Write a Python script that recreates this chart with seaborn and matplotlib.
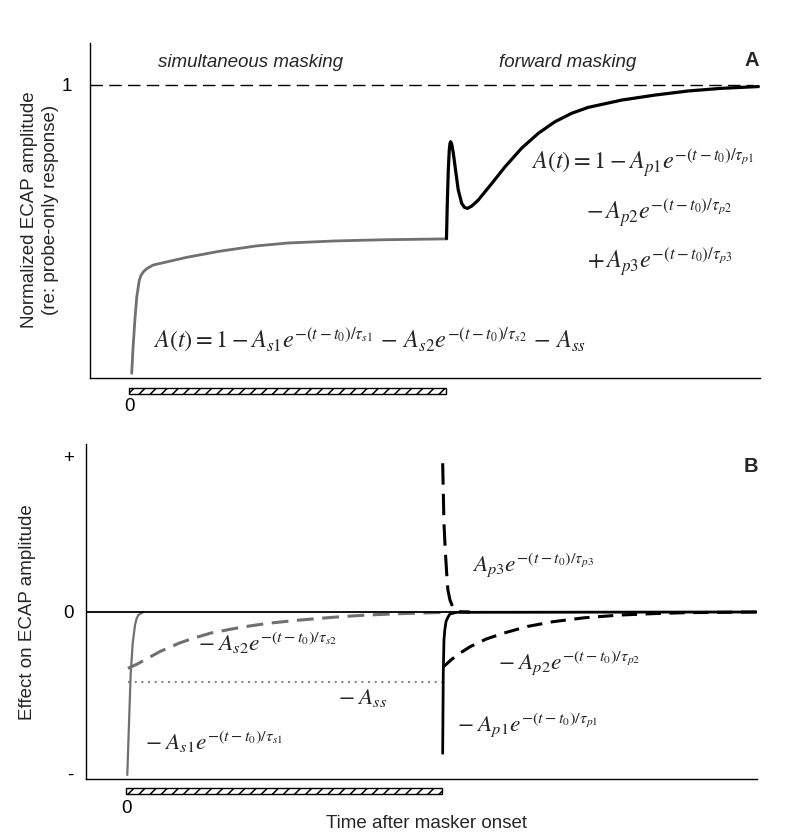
import numpy as np
import pandas as pd
import matplotlib
matplotlib.use("Agg")
import matplotlib.pyplot as plt
import matplotlib.transforms as mtransforms
from matplotlib.patches import Rectangle
import seaborn as sns

# ---------------- data ----------------
masker_on = 0.0
masker_off = 1.0
probe_only_level = 1.0

# Panel A: normalized ECAP amplitude
simul_t = [0.007, 0.011, 0.017, 0.023, 0.031, 0.037, 0.044, 0.055, 0.075, 0.18,
           0.285, 0.40, 0.50, 0.65, 0.80, 1.0]
simul_amp = [0.016, 0.100, 0.198, 0.277, 0.334, 0.351, 0.362, 0.373, 0.385, 0.411,
             0.432, 0.450, 0.460, 0.467, 0.471, 0.474]

fwd_t = [1.0, 1.0025, 1.0057, 1.0088, 1.011, 1.0132, 1.0165, 1.0215, 1.030, 1.037,
         1.048, 1.057, 1.066, 1.080, 1.100, 1.143, 1.185, 1.237, 1.290, 1.342,
         1.395, 1.447, 1.553, 1.658, 1.763, 1.868, 1.984]
fwd_amp = [0.475, 0.595, 0.709, 0.777, 0.799, 0.805, 0.797, 0.766, 0.697, 0.641,
           0.595, 0.581, 0.578, 0.586, 0.606, 0.663, 0.720, 0.783, 0.834, 0.873,
           0.902, 0.922, 0.947, 0.964, 0.978, 0.987, 0.993]

# Panel B: effect of each component on ECAP amplitude
s1_t = [0.0041, 0.0095, 0.0149, 0.0212, 0.0285, 0.0332, 0.0389, 0.0547]
s1_eff = [-1.012, -0.691, -0.381, -0.194, -0.081, -0.043, -0.019, 0.0]

s2_t = [0.006, 0.034, 0.108, 0.17, 0.213, 0.27, 0.339, 0.37, 0.45, 0.55, 0.66,
        0.76, 0.87, 1.0]
s2_eff = [-0.350, -0.325, -0.245, -0.192, -0.163, -0.130, -0.104, -0.093, -0.070,
          -0.050, -0.032, -0.019, -0.010, -0.003]

ss_t = [0.006, 1.0]
ss_level = -0.433

p1_t = [1.0022, 1.0041, 1.0063, 1.0089, 1.0127, 1.0184, 1.0253, 1.0465, 1.997]
p1_eff = [-0.878, -0.381, -0.174, -0.112, -0.060, -0.034, -0.012, -0.002, 0.0]

p2_t = [1.0022, 1.03, 1.06, 1.0886, 1.14, 1.194, 1.27, 1.352, 1.45, 1.563, 1.67,
        1.774, 1.996]
p2_eff = [-0.345, -0.295, -0.252, -0.216, -0.168, -0.132, -0.090, -0.060, -0.036,
          -0.019, -0.010, -0.004, 0.0]

p3_t = [1.0022, 1.0063, 1.0104, 1.0149, 1.0187, 1.0253, 1.0301, 1.0358, 1.044,
        1.057, 1.0886]
p3_eff = [0.924, 0.551, 0.385, 0.240, 0.137, 0.075, 0.050, 0.023, 0.009, 0.002, 0.0]

b_ticks = [-1, 0, 0.963]
b_ticklabels = ['-', '0', '+']

# ---------------- style ----------------
sns.set_style("white")
plt.rcParams['font.family'] = ['Liberation Sans', 'DejaVu Sans']
plt.rcParams['mathtext.fontset'] = 'stix'
plt.rcParams['hatch.linewidth'] = 1.1

W, H = 800, 838
fig = plt.figure(figsize=(W / 100, H / 100), dpi=100)
axA = fig.add_axes([90 / W, 1 - 378 / H, 670 / W, 335 / H])
axB = fig.add_axes([86 / W, 1 - 779 / H, 671 / W, 335 / H])

GRAY = "#707070"
TXT = 13.5

def px(x, y):
    return x / W, 1 - y / H

for ax in (axA, axB):
    for s in ("top", "right"):
        ax.spines[s].set_visible(False)
    for s in ("left", "bottom"):
        ax.spines[s].set_color("black")
        ax.spines[s].set_linewidth(1.0)

# ---------------- panel A ----------------
axA.set_xlim(-0.1246, 1.989)
axA.set_ylim(0, 1.1414)
axA.axhline(probe_only_level, xmax=0.99, color="black", lw=1.0, ls=(0, (9, 4.5)), zorder=1)
sns.lineplot(x=simul_t, y=simul_amp, ax=axA, color=GRAY, lw=2.0, sort=False,
             estimator=None, zorder=3)
sns.lineplot(x=fwd_t, y=fwd_amp, ax=axA, color="black", lw=2.3, sort=False,
             estimator=None, zorder=4)
axA.set_xticks([masker_on])
axA.set_xticklabels(['0'])
axA.set_yticks([probe_only_level])
axA.set_yticklabels(['1'])
axA.tick_params(axis='x', length=4.3, width=1, pad=10, labelsize=TXT, colors='black')
axA.tick_params(axis='y', length=5, width=1, pad=8, labelsize=TXT, colors='black')
axA.set_ylabel("Normalized ECAP amplitude\n(re: probe-only response)", fontsize=TXT,
               linespacing=1.3)
axA.yaxis.set_label_coords(-0.0463, 0.5015)

# ---------------- panel B ----------------
axB.set_xlim(-0.1266, 1.997)
axB.set_ylim(-1.0373, 1.0435)
axB.axhline(0, color="black", lw=1.3, zorder=5)
sns.lineplot(x=s1_t, y=s1_eff, ax=axB, color=GRAY, lw=1.6, sort=False,
             estimator=None, zorder=3)
sns.lineplot(x=s2_t, y=s2_eff, ax=axB, color=GRAY, lw=2.2, sort=False,
             estimator=None, linestyle=(0, (5.5, 2.8)), zorder=3)
sns.lineplot(x=ss_t, y=[ss_level, ss_level], ax=axB, color="#8a8a8a", lw=1.5,
             sort=False, estimator=None, linestyle=(0, (1, 2.2)), zorder=2)
sns.lineplot(x=p1_t, y=p1_eff, ax=axB, color="black", lw=2.0, sort=False,
             estimator=None, zorder=6)
sns.lineplot(x=p2_t, y=p2_eff, ax=axB, color="black", lw=2.2, sort=False,
             estimator=None, linestyle=(0, (5, 2.8)), zorder=6)
sns.lineplot(x=p3_t, y=p3_eff, ax=axB, color="black", lw=2.2, sort=False,
             estimator=None, linestyle=(0, (7, 3)), zorder=6)
axB.set_xticks([masker_on])
axB.set_xticklabels(['0'])
axB.set_yticks(b_ticks)
axB.set_yticklabels(b_ticklabels)
axB.tick_params(axis='x', length=4.3, width=1, pad=11, labelsize=TXT, colors='black')
axB.tick_params(axis='y', length=0, pad=9, labelsize=TXT, colors='black')
axB.set_ylabel("Effect on ECAP amplitude", fontsize=TXT)
axB.yaxis.set_label_coords(-0.0745, 0.4985)
axB.set_xlabel("Time after masker onset", fontsize=TXT)
axB.xaxis.set_label_coords(0.508, -0.1075)

# masker bars
for ax, y0 in ((axA, -0.0478), (axB, -0.0448)):
    trans = mtransforms.blended_transform_factory(ax.transData, ax.transAxes)
    ax.add_patch(Rectangle((masker_on, y0), masker_off - masker_on, 0.0179,
                           transform=trans, facecolor='white', edgecolor='black',
                           hatch='///', lw=1.0, clip_on=False))

# ---------------- annotations ----------------
fig.text(*px(251, 67), "simultaneous masking", style='italic', fontsize=TXT,
         ha='center', va='baseline')
fig.text(*px(568, 67), "forward masking", style='italic', fontsize=TXT,
         ha='center', va='baseline')
fig.text(*px(752, 60), "A", fontweight='bold', fontsize=14.5, ha='center', va='center')
fig.text(*px(751, 466), "B", fontweight='bold', fontsize=14.5, ha='center', va='center')

FA = 17.5
FB = 16.8
ex = r"e^{-(t-t_0)/\tau_{%s}}"
fig.text(*px(153, 348), r"$A(t)=1-A_{s1}" + ex % "s1" + r"\,-\,A_{s2}" + ex % "s2" + r"\,-\,A_{ss}$",
         fontsize=FA, ha='left', va='baseline')
fig.text(*px(531, 170), r"$A(t)=1-A_{p1}" + ex % "p1" + "$", fontsize=FA,
         ha='left', va='baseline')
fig.text(*px(586, 220), r"$-\,A_{p2}" + ex % "p2" + "$", fontsize=FA,
         ha='left', va='baseline')
fig.text(*px(587, 269), r"$+\,A_{p3}" + ex % "p3" + "$", fontsize=FA,
         ha='left', va='baseline')

fig.text(*px(198, 651), r"$-\;A_{s2}" + ex % "s2" + "$", fontsize=FB, ha='left', va='baseline')
fig.text(*px(338, 704), r"$-\;A_{ss}$", fontsize=FB, ha='left', va='baseline')
fig.text(*px(145, 750), r"$-\;A_{s1}" + ex % "s1" + "$", fontsize=FB, ha='left', va='baseline')
fig.text(*px(472, 572), r"$A_{p3}" + ex % "p3" + "$", fontsize=FB, ha='left', va='baseline')
fig.text(*px(498, 670), r"$-\;A_{p2}" + ex % "p2" + "$", fontsize=FB, ha='left', va='baseline')
fig.text(*px(457, 732), r"$-\;A_{p1}" + ex % "p1" + "$", fontsize=FB, ha='left', va='baseline')

fig.savefig("out.png", dpi=100, facecolor="white")
